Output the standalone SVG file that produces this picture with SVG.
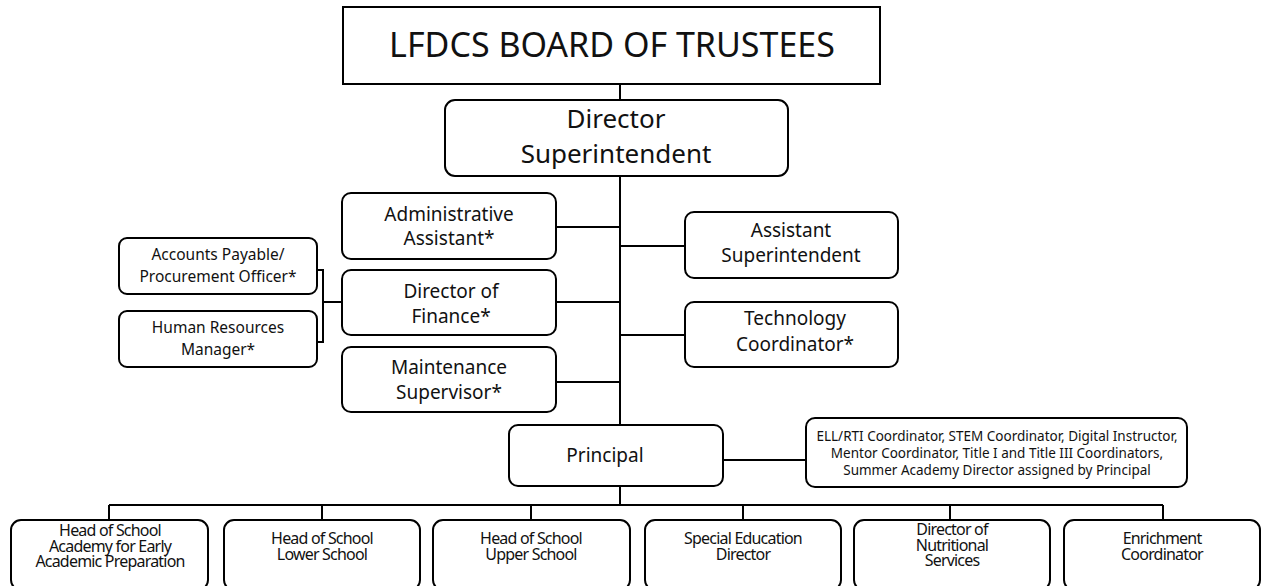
<svg xmlns="http://www.w3.org/2000/svg" width="1262" height="586" viewBox="0 0 1262 586">
  <style>
    .box { fill: #fff; stroke: #000; stroke-width: 2; }
    .wire { fill: none; stroke: #000; stroke-width: 2; }
    text { font-family: "Noto Sans", "Open Sans", sans-serif; fill: #111; text-anchor: middle; }
    .title { font-size: 34px; }
    .big { font-size: 26px; }
    .mid { font-size: 19px; }
    .small { font-size: 15.5px; }
    .note { font-size: 13.5px; }
    .low { font-size: 16px; letter-spacing: -0.8px; }
  </style>
  <rect width="1262" height="586" fill="#fff"/>

  <!-- connectors -->
  <g id="connectors">
    <path class="wire" d="M620 84 V100 M620 176 V425 M620 486 V505"/>
    <path class="wire" d="M556 227 H620 M556 302 H620 M556 382 H620"/>
    <path class="wire" d="M620 246 H685 M620 335 H685"/>
    <path class="wire" d="M317 270 H323 V342 H317 M323 302 H342"/>
    <path class="wire" d="M723 460 H806"/>
    <path class="wire" d="M109 505 H1163 M109 505 V520 M322 505 V520 M531 505 V520 M743 505 V520 M950 505 V520 M1163 505 V520"/>
  </g>

  <g id="board">
    <rect class="box" x="343" y="7" width="537" height="77"/>
    <text class="title" x="612" y="57">LFDCS BOARD OF TRUSTEES</text>
  </g>

  <g id="director">
    <rect class="box" x="445" y="100" width="343" height="76" rx="10"/>
    <text class="big" x="616" y="128">Director</text>
    <text class="big" x="616" y="163">Superintendent</text>
  </g>

  <g id="admin-assistant">
    <rect class="box" x="342" y="193" width="214" height="66" rx="9"/>
    <text class="mid" x="449" y="221">Administrative</text>
    <text class="mid" x="449" y="245">Assistant*</text>
  </g>

  <g id="director-finance">
    <rect class="box" x="342" y="270" width="214" height="65" rx="9"/>
    <text class="mid" x="451" y="298">Director of</text>
    <text class="mid" x="451" y="323">Finance*</text>
  </g>

  <g id="maintenance">
    <rect class="box" x="342" y="347" width="214" height="65" rx="9"/>
    <text class="mid" x="449" y="374">Maintenance</text>
    <text class="mid" x="449" y="399">Supervisor*</text>
  </g>

  <g id="accounts-payable">
    <rect class="box" x="119" y="238" width="198" height="56" rx="8"/>
    <text class="small" x="218" y="260">Accounts Payable/</text>
    <text class="small" x="218" y="282">Procurement Officer*</text>
  </g>

  <g id="human-resources">
    <rect class="box" x="119" y="311" width="198" height="56" rx="8"/>
    <text class="small" x="218" y="333">Human Resources</text>
    <text class="small" x="218" y="355">Manager*</text>
  </g>

  <g id="assistant-superintendent">
    <rect class="box" x="685" y="212" width="213" height="66" rx="9"/>
    <text class="mid" x="791" y="237">Assistant</text>
    <text class="mid" x="791" y="262">Superintendent</text>
  </g>

  <g id="technology">
    <rect class="box" x="685" y="302" width="213" height="65" rx="9"/>
    <text class="mid" x="795" y="325">Technology</text>
    <text class="mid" x="795" y="351">Coordinator*</text>
  </g>

  <g id="principal">
    <rect class="box" x="509" y="425" width="214" height="61" rx="9"/>
    <text class="mid" x="605" y="462">Principal</text>
  </g>

  <g id="assigned-roles">
    <rect class="box" x="806" y="418" width="381" height="69" rx="9"/>
    <text class="note" x="997" y="441">ELL/RTI Coordinator, STEM Coordinator, Digital Instructor,</text>
    <text class="note" x="997" y="458">Mentor Coordinator, Title I and Title III Coordinators,</text>
    <text class="note" x="997" y="475">Summer Academy Director assigned by Principal</text>
  </g>

  <g id="head-early-academy">
    <rect class="box" x="11" y="520" width="197" height="70" rx="10"/>
    <text class="low" x="110" y="536">Head of School</text>
    <text class="low" x="110" y="551.5">Academy for Early</text>
    <text class="low" x="110" y="567">Academic Preparation</text>
  </g>

  <g id="head-lower-school">
    <rect class="box" x="224" y="520" width="196" height="70" rx="10"/>
    <text class="low" x="322" y="544">Head of School</text>
    <text class="low" x="322" y="559.5">Lower School</text>
  </g>

  <g id="head-upper-school">
    <rect class="box" x="433" y="520" width="197" height="70" rx="10"/>
    <text class="low" x="531" y="544">Head of School</text>
    <text class="low" x="531" y="559.5">Upper School</text>
  </g>

  <g id="special-education">
    <rect class="box" x="645" y="520" width="196" height="70" rx="10"/>
    <text class="low" x="743" y="544">Special Education</text>
    <text class="low" x="743" y="559.5">Director</text>
  </g>

  <g id="nutritional-services">
    <rect class="box" x="854" y="520" width="196" height="70" rx="10"/>
    <text class="low" x="952" y="535">Director of</text>
    <text class="low" x="952" y="550.5">Nutritional</text>
    <text class="low" x="952" y="566">Services</text>
  </g>

  <g id="enrichment">
    <rect class="box" x="1064" y="520" width="196" height="70" rx="10"/>
    <text class="low" x="1162" y="544">Enrichment</text>
    <text class="low" x="1162" y="559.5">Coordinator</text>
  </g>
</svg>
